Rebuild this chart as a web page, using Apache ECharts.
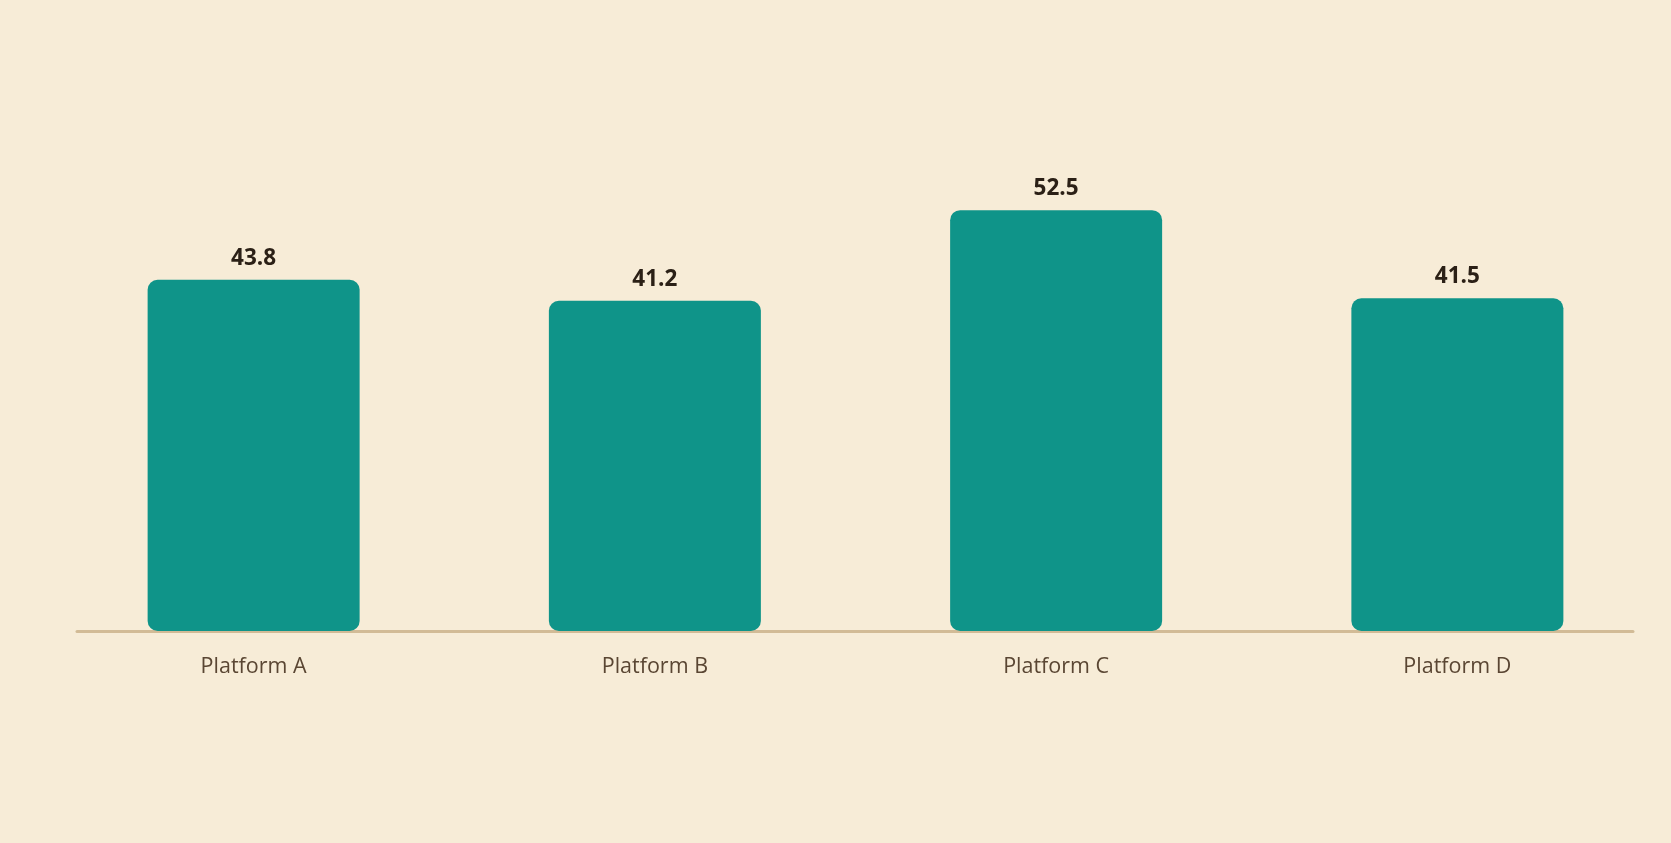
<!DOCTYPE html>
<html>
<head>
<meta charset="utf-8">
<script src="https://cdn.jsdelivr.net/npm/echarts@6/dist/echarts.min.js"></script>
<style>
html,body{margin:0;padding:0;background:#f7ecd7;}
#chart{width:1671px;height:843px;}
</style>
</head>
<body>
<div id="chart"></div>
<script>
const categories = ["Platform A", "Platform B", "Platform C", "Platform D"];
const values = [43.8, 41.2, 52.5, 41.5];

const chart = echarts.init(document.getElementById('chart'));
chart.setOption({
  backgroundColor: '#f7ecd7',
  animation: false,
  grid: [
    {left: 53, right: 13, top: 150, bottom: 212},
    {left: 77, right: 38, top: 150, bottom: 212}
  ],
  xAxis: [
    {
      type: 'category', data: categories, gridIndex: 0,
      axisLine: {show: false}, axisTick: {show: false},
      axisLabel: {margin: 25, fontSize: 21.5, color: '#5a4633', fontFamily: 'Open Sans'}
    },
    {
      type: 'category', data: categories, gridIndex: 1,
      axisLine: {show: true, lineStyle: {color: '#d2bb96', width: 3}},
      axisTick: {show: false}, axisLabel: {show: false}
    }
  ],
  yAxis: [
    {type: 'value', gridIndex: 0, min: 0, max: 60, show: false, splitLine: {show: false}},
    {type: 'value', gridIndex: 1, min: 0, max: 60, show: false, splitLine: {show: false}}
  ],
  series: [{
    type: 'bar',
    xAxisIndex: 0, yAxisIndex: 0,
    data: values,
    barWidth: 212,
    itemStyle: {color: '#0f9489', borderRadius: 10},
    label: {
      show: true, position: 'top', distance: 10,
      fontSize: 22.5, fontWeight: 'bold', color: '#2b2016', fontFamily: 'Open Sans',
      formatter: p => p.value.toFixed(1)
    }
  }]
});
</script>
</body>
</html>
